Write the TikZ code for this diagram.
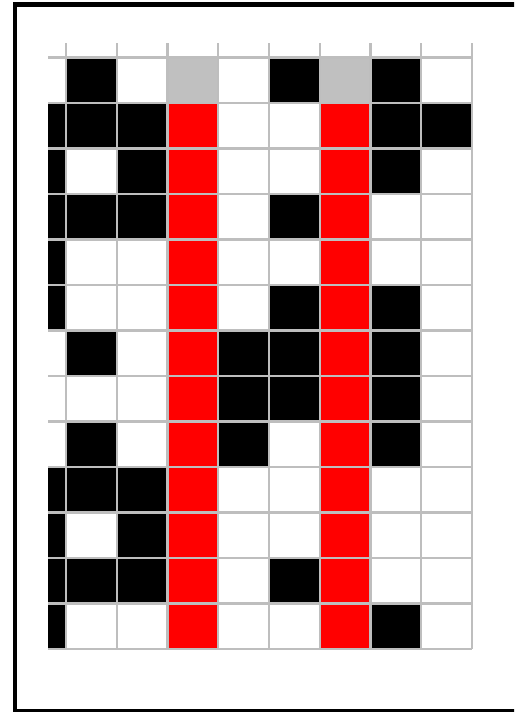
\documentclass[tikz,border=0pt]{standalone}
\definecolor{ck}{RGB}{0,0,0}
\definecolor{cr}{RGB}{255,0,0}
\definecolor{cg}{RGB}{192,192,192}
\definecolor{cw}{RGB}{255,255,255}
\definecolor{gridgrey}{RGB}{190,190,190}
\tikzset{
  gridline/.style={draw=gridgrey, line width=2.4pt},
  framestyle/.style={draw=black, line width=4.5pt}
}
\begin{document}
\begin{tikzpicture}[x=1pt,y=-1pt]
\useasboundingbox (0,0) rectangle (514,712);
\clip (0,0) rectangle (514,712);
\fill[white] (0,0) rectangle (514,712);
% cells
\foreach \row [count=\i from 0] in {
  {w,k,w,g,w,k,g,k,w},
  {k,k,k,r,w,w,r,k,k},
  {k,w,k,r,w,w,r,k,w},
  {k,k,k,r,w,k,r,w,w},
  {k,w,w,r,w,w,r,w,w},
  {k,w,w,r,w,k,r,k,w},
  {w,k,w,r,k,k,r,k,w},
  {w,w,w,r,k,k,r,k,w},
  {w,k,w,r,k,w,r,k,w},
  {k,k,k,r,w,w,r,w,w},
  {k,w,k,r,w,w,r,w,w},
  {k,k,k,r,w,k,r,w,w},
  {k,w,w,r,w,w,r,k,w}} {
  \foreach \c [count=\j from 0] in \row {
    \pgfmathsetmacro{\ytop}{57.5+45.5*\i}
    \pgfmathsetmacro{\ybot}{57.5+45.5*(\i+1)}
    \ifnum\j=0
      \def\xl{48}\def\xr{66}
    \else
      \pgfmathsetmacro{\xl}{66+50.75*(\j-1)}
      \pgfmathsetmacro{\xr}{66+50.75*\j}
    \fi
    \fill[c\c] (\xl,\ytop) rectangle (\xr,\ybot);
  }
}
% grid lines
\foreach \i in {0,...,13} {
  \pgfmathsetmacro{\yy}{57.5+45.5*\i}
  \draw[gridline] (48,\yy) -- (472,\yy);
}
\foreach \k in {0,...,8} {
  \pgfmathsetmacro{\xx}{66+50.75*\k}
  \draw[gridline] (\xx,43) -- (\xx,649);
}
% frame
\draw[framestyle] (15,4.5) rectangle (540,711.5);
\end{tikzpicture}
\end{document}
